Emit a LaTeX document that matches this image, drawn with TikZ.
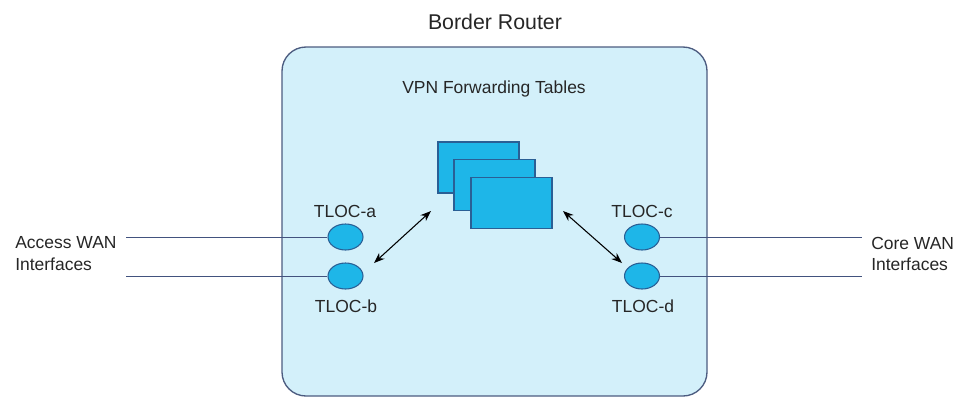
\documentclass[tikz,border=0pt]{standalone}
\usepackage{fontspec}
\setmainfont{Liberation Sans}
\usetikzlibrary{arrows.meta,shapes.geometric}
\definecolor{boxfill}{HTML}{D3F0FA}
\definecolor{boxline}{HTML}{4C5C80}
\definecolor{cyanfill}{HTML}{1EB6E8}
\definecolor{cyanline}{HTML}{2A5F95}
\definecolor{wire}{HTML}{42527E}
\begin{document}
\begin{tikzpicture}[x=0.75pt,y=-0.75pt,
  lbl/.style={font=\fontsize{13.1}{15.4}\selectfont, text=black!85, inner sep=0pt},
  tbl/.style={draw=cyanline, fill=cyanfill, line width=0.8pt, minimum width=60.75pt, minimum height=38.25pt, inner sep=0pt},
  tloc/.style={ellipse, draw=cyanline, fill=cyanfill, line width=0.8pt, minimum width=26.25pt, minimum height=19.5pt, inner sep=0pt},
  wireline/.style={draw=wire, line width=0.75pt},
  dbl/.style={line width=0.8pt, {Stealth[length=8pt,width=6pt]}-{Stealth[length=8pt,width=6pt]}}]
\useasboundingbox (0,0) rectangle (956,401);
% router box
\node[draw=boxline, fill=boxfill, line width=1pt, rounded corners=18pt, minimum width=318.75pt, minimum height=261.75pt, inner sep=0pt] (router) at (494.5,221.5) {};
\node[font=\fontsize{16}{19}\selectfont, text=black!85, inner sep=0pt] (title) at (495,22) {Border Router};
\node[lbl] (vpn) at (494,89) {VPN Forwarding Tables};
% tables
\node[tbl] (t1) at (478.5,167.5) {};
\node[tbl] (t2) at (494.5,185) {};
\node[tbl] (t3) at (511.5,203) {};
% tlocs
\node[tloc] (a) at (345.5,237) {};
\node[tloc] (b) at (345.5,276) {};
\node[tloc] (c) at (642,237) {};
\node[tloc] (d) at (642,276) {};
\node[lbl] (la) at (345,211) {TLOC-a};
\node[lbl] (lb) at (346,306) {TLOC-b};
\node[lbl] (lc) at (642,211) {TLOC-c};
\node[lbl] (ld) at (643,306) {TLOC-d};
% side labels
\node[lbl, align=left, anchor=west] (acc) at (15,254) {Access WAN\\[1pt]Interfaces};
\node[lbl, align=left, anchor=west] (core) at (871,254) {Core WAN\\[1pt]Interfaces};
\coordinate (l1) at (126,237);
\coordinate (l2) at (126,276);
\coordinate (r1) at (862,237);
\coordinate (r2) at (862,276);
\draw[wireline] (l1) -- (a.west);
\draw[wireline] (l2) -- (b.west);
\draw[wireline] (c.east) -- (r1);
\draw[wireline] (d.east) -- (r2);
% arrows
\coordinate (al1) at (431,211);
\coordinate (al2) at (374,263);
\coordinate (ar1) at (563,211);
\coordinate (ar2) at (622,263);
\draw[dbl] (al1) -- (al2);
\draw[dbl] (ar1) -- (ar2);
\end{tikzpicture}
\end{document}
